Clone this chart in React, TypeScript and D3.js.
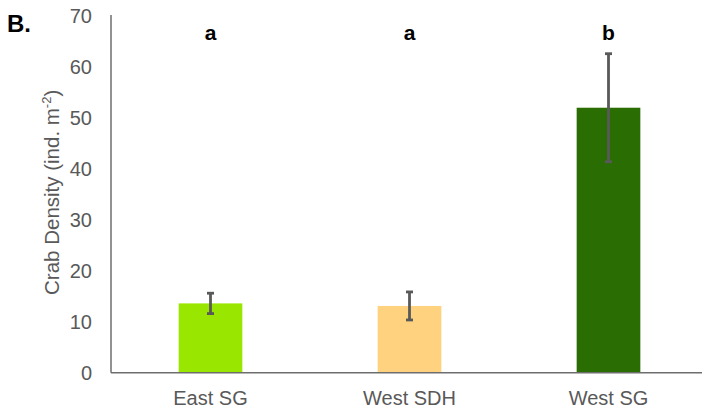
import React from "react";
import * as d3 from "d3";

const sites = ["East SG", "West SDH", "West SG"];
const meanDensity = [13.6, 13.1, 52.0];
const errDensity = [2.0, 2.75, 10.6];
const groupLetters = ["a", "a", "b"];
const barColors = ["#99e600", "#ffd280", "#2a6e03"];
const yTicks = [0, 10, 20, 30, 40, 50, 60, 70];

const W = 702;
const H = 413;
const m = { left: 111, right: 0, top: 16, bottom: 40 };
const FONT = "'Liberation Sans', Arial, sans-serif";

export default function App() {
  const x = d3
    .scaleBand<string>()
    .domain(sites)
    .range([m.left, m.left + 597])
    .paddingInner(0.68)
    .paddingOuter(0.34);
  const y = d3.scaleLinear().domain([0, 70]).range([372.7, m.top]);
  const bw = x.bandwidth();

  return (
    <svg
      width={W}
      height={H}
      style={{ position: "absolute", left: 0, top: 0, background: "#fff" }}
      fontFamily={FONT}
    >
      <text x={7} y={32} fontSize={24} fontWeight="bold" fill="#000">
        B.
      </text>

      {/* y tick labels */}
      {yTicks.map((t) => (
        <text
          key={t}
          x={92}
          y={y(t)}
          dy="0.35em"
          textAnchor="end"
          fontSize={20}
          fill="#595959"
        >
          {t}
        </text>
      ))}

      {/* y axis title */}
      <text
        transform={`translate(59,${y(35) - 2}) rotate(-90)`}
        textAnchor="middle"
        fontSize={20.5}
        fill="#595959"
      >
        Crab Density (ind. m
        <tspan dy={-8} fontSize={13}>
          -2
        </tspan>
        <tspan dy={8}>)</tspan>
      </text>

      {/* bars */}
      {sites.map((s, i) => (
        <rect
          key={s}
          x={x(s)}
          y={y(meanDensity[i])}
          width={bw}
          height={y(0) - y(meanDensity[i])}
          fill={barColors[i]}
        />
      ))}

      {/* error bars */}
      {sites.map((s, i) => {
        const cx = (x(s) as number) + bw / 2;
        const hi = y(meanDensity[i] + errDensity[i]);
        const lo = y(meanDensity[i] - errDensity[i]);
        return (
          <g key={s} stroke="#595959" strokeWidth={2.8}>
            <line x1={cx} x2={cx} y1={hi} y2={lo} />
            <line x1={cx - 3.5} x2={cx + 3.5} y1={hi} y2={hi} />
            <line x1={cx - 3.5} x2={cx + 3.5} y1={lo} y2={lo} />
          </g>
        );
      })}

      {/* significance letters */}
      {sites.map((s, i) => (
        <text
          key={s}
          x={(x(s) as number) + bw / 2}
          y={40}
          textAnchor="middle"
          fontSize={21}
          fontWeight="bold"
          fill="#000"
        >
          {groupLetters[i]}
        </text>
      ))}

      {/* axes */}
      <line x1={m.left} x2={m.left} y1={y(70) - 1} y2={y(0)} stroke="#6e6e6e" strokeWidth={1.5} />
      <line x1={m.left} x2={W} y1={y(0)} y2={y(0)} stroke="#6e6e6e" strokeWidth={1.5} />

      {/* category labels */}
      {sites.map((s) => (
        <text
          key={s}
          x={(x(s) as number) + bw / 2}
          y={405}
          textAnchor="middle"
          fontSize={20}
          fill="#595959"
        >
          {s}
        </text>
      ))}
    </svg>
  );
}
